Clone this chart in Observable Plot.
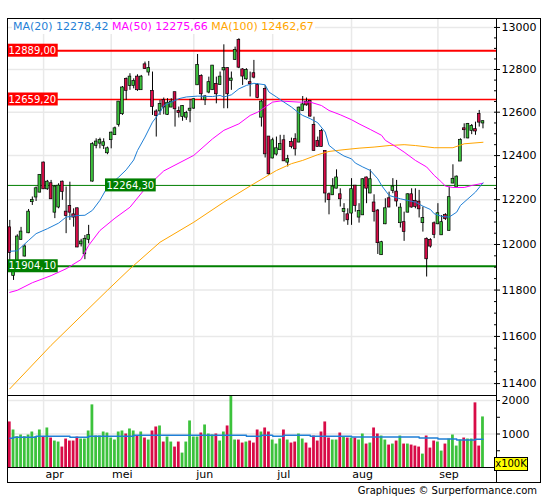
<!DOCTYPE html>
<html>
<head>
<meta charset="utf-8">
<script src="https://cdn.jsdelivr.net/npm/d3@7"></script>
<script src="https://cdn.jsdelivr.net/npm/@observablehq/plot@0.6"></script>
<style>
  html,body{margin:0;padding:0;background:#fff;}
  #wrap{position:relative;width:545px;height:500px;overflow:hidden;font-family:"DejaVu Sans",Verdana,sans-serif;color:#000;}
  #wrap svg{position:absolute;left:0;}
  .line{position:absolute;background:#000;pointer-events:none;}
  .box{position:absolute;border:1px solid #000;box-sizing:border-box;pointer-events:none;}
  #legend{position:absolute;left:12px;top:20px;font-size:11px;line-height:14px;white-space:pre;background:#fff;padding:0 1px;}
  #footer{position:absolute;right:8px;top:484px;font-size:10px;line-height:14px;white-space:pre;}
  #unit{position:absolute;left:494px;top:457px;width:34px;height:14px;box-sizing:border-box;background:#ffff00;border:1px solid #000;font-size:10px;line-height:12px;text-align:center;white-space:pre;}
</style>
</head>
<body>
<div id="wrap"></div>
<script>
// ---------------- data ----------------
const open = [12074,11864,11930,12023,11949,12052,12191,12212,12234,12366,
12249,12272,12144,12167,12279,12144,12170,12132,12159,12003,
11959,12023,12284,12447,12457,12447,12413,12473,12496,12543,
12593,12753,12725,12725,12764,12705,12822,12788,12697,12601,
12606,12655,12590,12624,12691,12603,12580,12577,12609,12619,
12728,12767,12658,12694,12705,12730,12730,12798,12804,12749,
12848,12938,12798,12756,12738,12780,12725,12577,12706,12485,
12389,12407,12427,12468,12370,12460,12473,12462,12608,12647,
12650,12539,12465,12511,12419,12222,12222,12252,12222,12147,
12132,12140,12261,12122,12132,12298,12230,12185,12149,11955,
12092,12204,12242,12234,12097,12097,12144,12222,12192,12189,
12097,12023,12018,12092,12092,12043,12129,12063,12275,12257,
12375,12523,12481,12516,12519,12590,12550];

const high = [12107,11921,12043,12076,11999,12156,12212,12257,12313,12370,
12287,12287,12264,12272,12284,12257,12279,12159,12162,12023,
12040,12085,12459,12477,12480,12477,12439,12508,12531,12650,
12720,12760,12780,12756,12775,12772,12835,12838,12788,12611,
12655,12666,12663,12663,12691,12624,12631,12604,12660,12663,
12871,12775,12678,12764,12819,12764,12788,12917,12807,12788,
12906,12946,12804,12804,12788,12843,12733,12655,12725,12485,
12480,12485,12493,12493,12401,12480,12500,12624,12673,12666,
12653,12577,12485,12520,12419,12230,12295,12335,12249,12182,
12159,12295,12264,12182,12295,12302,12335,12222,12156,12014,
12204,12234,12295,12287,12182,12144,12227,12249,12249,12242,
12167,12029,12026,12100,12182,12129,12137,12257,12358,12307,
12477,12546,12548,12543,12554,12608,12560];

const low = [11908,11842,11908,12018,11945,12048,12174,12192,12231,12246,
12242,12201,12115,12159,12197,12048,12107,12077,11986,11989,
11933,12003,12279,12431,12431,12428,12404,12431,12493,12531,
12585,12655,12702,12709,12697,12702,12800,12769,12585,12485,
12585,12588,12585,12621,12531,12573,12558,12562,12551,12613,
12725,12655,12631,12686,12702,12639,12725,12616,12616,12702,
12843,12804,12725,12749,12671,12756,12663,12531,12389,12310,
12385,12398,12424,12373,12348,12431,12398,12459,12604,12628,
12577,12421,12439,12439,12185,12132,12219,12249,12167,12100,
12085,12085,12144,12095,12129,12182,12227,12100,11956,11952,
12088,12164,12227,12167,12073,12014,12141,12162,12159,12118,
12055,11857,11984,12026,12088,12040,12107,12058,12272,12252,
12373,12477,12477,12496,12493,12531,12523];

const close = [11965,11886,12033,12055,11989,12144,12197,12249,12310,12249,
12279,12204,12257,12261,12237,12129,12144,12122,11989,12011,
12023,12040,12450,12462,12470,12459,12431,12503,12523,12647,
12713,12702,12764,12744,12705,12764,12804,12804,12627,12585,
12636,12624,12642,12647,12616,12598,12627,12594,12614,12658,
12819,12686,12671,12738,12816,12686,12764,12804,12686,12755,
12890,12811,12769,12795,12733,12764,12668,12647,12408,12317,
12468,12431,12451,12376,12382,12442,12431,12619,12634,12634,
12582,12424,12442,12442,12230,12200,12257,12298,12204,12156,
12110,12245,12174,12147,12290,12252,12290,12147,12008,12008,
12159,12167,12257,12194,12162,12058,12222,12167,12170,12159,
12115,11937,11993,12045,12137,12097,12115,12209,12292,12302,
12470,12519,12543,12534,12513,12554,12556];

// volume in units of 100K
const volume = [1360,1120,920,970,920,970,1060,920,1120,920,
1180,880,790,760,610,850,790,790,910,850,
850,1090,1870,940,940,1060,1030,880,820,1060,
1090,1000,1150,1090,940,1060,880,820,1090,1210,
1240,760,910,760,610,760,430,760,1390,910,
910,1030,1270,1000,970,1000,790,1060,1240,2250,
820,820,730,760,790,730,1120,1060,1180,1060,
820,700,850,1120,820,730,760,1000,850,730,
580,940,790,1060,1360,880,820,820,1030,910,
880,880,880,820,1000,700,730,1180,1000,940,
820,670,700,790,940,700,700,670,640,610,
400,940,580,790,760,490,700,850,970,640,
820,880,850,850,1930,640,1510];

// moving averages read at sample points (bar index, value)
const ma20Idx = [0,2,5,7,10,13,15,18,20,22,24,26,29,31,33,34,36,38,40,41,43,45,47,50,54,56,57,59,61,63,65,66,68,69,71,73,75,77,78,80,82,84,85,87,89,91,92,94,96,98,99,101,104,108,110,112,113,115,117,119,120,122,124,126];
const ma20Val = [11970,11972,12018,12048,12070,12095,12122,12129,12130,12152,12197,12257,12302,12335,12380,12423,12485,12554,12600,12631,12647,12663,12671,12675,12673,12678,12671,12681,12709,12725,12735,12733,12728,12694,12671,12647,12624,12596,12585,12570,12551,12508,12447,12419,12398,12385,12366,12348,12332,12294,12264,12219,12204,12189,12171,12156,12137,12125,12122,12144,12174,12204,12234,12276];

const ma50Idx = [0,2,6,11,15,19,21,24,28,32,36,41,49,54,57,61,64,66,68,70,72,77,80,83,85,88,91,93,96,99,100,103,105,108,111,113,115,116,118,121,123,126];
const ma50Val = [11790,11799,11832,11863,11893,11934,11996,12062,12117,12166,12249,12330,12401,12477,12516,12546,12585,12600,12624,12647,12652,12647,12647,12631,12608,12588,12565,12546,12520,12493,12470,12439,12416,12378,12348,12310,12279,12261,12255,12255,12264,12274];

const ma100Idx = [0,11,26,32,40,49,57,65,71,75,78,82,85,89,93,97,101,105,108,113,118,121,126];
const ma100Val = [11378,11562,11799,11893,12010,12099,12189,12272,12332,12363,12378,12404,12419,12427,12434,12439,12446,12450,12446,12436,12436,12454,12461];

const volMAIdx = [0,1,7,16,21,33,63,67,70,73,80,91,109,114,119,124,126];
const volMAVal = [870,900,930,900,930,960,930,960,930,960,930,910,880,850,820,840,840];

const levelValues = [12889.00, 12659.20, 12264.30, 11904.10];
const levelKinds = ["resistance","resistance","support","support"];

const legendNames = ["MA(20)","MA(50)","MA(100)"];
const legendValues = [12278.42, 12275.66, 12462.67];

const monthLabels = ["apr","mei","jun","jul","aug","sep"];
const monthStart = [9,27,49,70,91,114];

const priceTicks = [11400,11600,11800,12000,12200,12400,12600,12800,13000];
const volTicks = [1000,2000];
const volMinorTicks = [500,1500];

// ---------------- styles ----------------
const GREEN="#3cc23c", RED="#d80b47", BLUE="#1f7fd6", MAG="#ff00ff", ORANGE="#ffa500";
const GRID="#e9e9e9";
const levelColor = {resistance:"#ff0000", support:"#007f00"};
const levelWidth = [2, 1.3, 1, 2.2];
const levelLabelX = [7, 7, 105, 7];
const FONT='"DejaVu Sans", Verdana, sans-serif';
const fmt2 = v => v.toFixed(2).replace(".", ",");

// ---------------- tables ----------------
const candles = open.map((o,i)=>({i, open:o, high:high[i], low:low[i], close:close[i], volume:volume[i], up: close[i] >= o}));
const ma20 = ma20Idx.map((i,k)=>({i, v:ma20Val[k]}));
const ma50 = ma50Idx.map((i,k)=>({i, v:ma50Val[k]}));
const ma100 = ma100Idx.map((i,k)=>({i, v:ma100Val[k]}));
const volMA = volMAIdx.map((i,k)=>({i, v:volMAVal[k]}));
const levels = levelValues.map((v,k)=>({value:v, kind:levelKinds[k], label:fmt2(v)}));
const minorPriceTicks = d3.range(11400, 13001, 50);

const xDomain = [-0.61, 129.6];
const wrap = document.getElementById("wrap");

const price = Plot.plot({
  width:545, height:396, marginTop:18, marginBottom:1, marginLeft:7, marginRight:49,
  style:{fontFamily:FONT, fontSize:"11px", color:"#000", background:"transparent", overflow:"visible"},
  x:{domain:xDomain, axis:null, label:null},
  y:{type:"log", domain:[11350,13043], axis:null, label:null},
  marks:[
    Plot.ruleY(priceTicks,{stroke:GRID, strokeWidth:1.5}),
    Plot.ruleX(monthStart,{stroke:GRID, strokeWidth:1.5}),
    Plot.ruleY(levels,{y:"value", stroke:d=>levelColor[d.kind], strokeWidth:(d,k)=>levelWidth[k]}),
    Plot.ruleX(candles,{x:"i", y1:"low", y2:"high", stroke:"#000", strokeWidth:1}),
    Plot.rect(candles,{x1:d=>d.i-0.36, x2:d=>d.i+0.36, y1:"open", y2:"close", fill:d=>d.up?GREEN:RED, stroke:"#000", strokeWidth:0.7, insetTop:-0.5, insetBottom:-0.5}),
    Plot.line(ma100,{x:"i", y:"v", stroke:ORANGE, strokeWidth:1}),
    Plot.line(ma50,{x:"i", y:"v", stroke:MAG, strokeWidth:1}),
    Plot.line(ma20,{x:"i", y:"v", stroke:BLUE, strokeWidth:1}),
    Plot.axisY({anchor:"right", ticks:minorPriceTicks, tickFormat:()=>"", tickSize:3, dx:-3, label:null}),
    Plot.axisY({anchor:"right", ticks:priceTicks, tickFormat:d=>String(d), tickSize:3, tickPadding:2, fontSize:11, label:null}),
    Plot.frame({stroke:"#000"})
  ]
});
price.style.top = "0px";
wrap.appendChild(price);

const volPlot = Plot.plot({
  width:545, height:88, marginTop:0, marginBottom:16, marginLeft:7, marginRight:49,
  style:{fontFamily:FONT, fontSize:"11px", color:"#000", background:"transparent", overflow:"visible"},
  x:{domain:xDomain, axis:null, label:null},
  y:{domain:[0,2150], axis:null, label:null},
  marks:[
    Plot.ruleY(volTicks,{stroke:GRID, strokeWidth:1.5}),
    Plot.ruleX(monthStart,{stroke:GRID, strokeWidth:1.5}),
    Plot.rect(candles,{x1:d=>d.i-0.37, x2:d=>d.i+0.37, y1:0, y2:"volume", fill:d=>d.up?GREEN:RED, clip:true}),
    Plot.line(volMA,{x:"i", y:"v", stroke:BLUE, strokeWidth:1.5, curve:"step-after"}),
    Plot.axisY({anchor:"right", ticks:volMinorTicks, tickFormat:()=>"", tickSize:3, label:null}),
    Plot.axisY({anchor:"right", ticks:volTicks, tickFormat:d=>String(d), tickSize:3, tickPadding:2, fontSize:11, label:null}),
    Plot.axisX({anchor:"bottom", ticks:monthStart, tickFormat:d=>monthLabels[monthStart.indexOf(d)], tickSize:0, tickPadding:3, dx:11, fontSize:11, label:null}),
    Plot.frame({stroke:"#000"})
  ]
});
volPlot.style.top = "395px";
wrap.appendChild(volPlot);

// level labels (boxes) placed with the plot's own y scale
const ys = price.scale("y");
const lg = d3.select(price).append("g").attr("font-family", FONT).attr("font-size", 10).attr("text-anchor", "start");
levels.forEach((d,k)=>{
  const y = ys.apply(d.value);
  const x0 = levelLabelX[k];
  const r = lg.append("rect").attr("x", x0).attr("y", y-6.5).attr("height", 13).attr("fill", levelColor[d.kind]);
  const t = lg.append("text").attr("x", x0+1.5).attr("y", y).attr("dy","0.36em").attr("fill","#fff").attr("text-anchor","start").text(d.label);
  r.attr("width", t.node().getComputedTextLength()+3);
});

// frame pieces outside the two panels
const outer = document.createElement("div");
outer.className = "box";
Object.assign(outer.style, {left:"7px", top:"18px", width:"534px", height:"465px"});
wrap.appendChild(outer);
const axisExt = document.createElement("div");
axisExt.className = "line";
Object.assign(axisExt.style, {left:"496px", top:"467px", width:"1px", height:"15px"});
wrap.appendChild(axisExt);

// legend
const legend = document.createElement("div");
legend.id = "legend";
const legendColors = [BLUE, MAG, ORANGE];
legendNames.forEach((n,k)=>{
  const s = document.createElement("span");
  s.style.color = legendColors[k];
  s.textContent = (k?" ":"") + n + " " + fmt2(legendValues[k]);
  legend.appendChild(s);
});
wrap.appendChild(legend);

// unit tag
const unit = document.createElement("div");
unit.id = "unit";
unit.textContent = "x100K";
wrap.appendChild(unit);

// footer
const footer = document.createElement("div");
footer.id = "footer";
footer.textContent = "Graphiques © Surperformance.com";
wrap.appendChild(footer);
</script>
</body>
</html>
